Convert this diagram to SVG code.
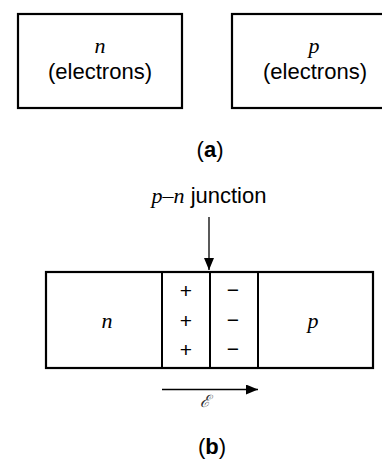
<svg xmlns="http://www.w3.org/2000/svg" width="382" height="460" viewBox="0 0 382 460">
<style>
.box{fill:none;stroke:#000;stroke-width:2.2}
.div{fill:none;stroke:#000;stroke-width:2}
.t{font-family:"Liberation Sans",Arial,sans-serif;font-size:22px;text-anchor:middle;fill:#000}
.m{font-family:"Liberation Serif","Times New Roman",serif;font-style:italic;font-size:22px;text-anchor:middle;fill:#000}
.s{font-family:"Liberation Sans",Arial,sans-serif;font-size:21px;text-anchor:middle;fill:#000}
.con{stroke:#000;stroke-width:1.3;fill:none}
</style>
<defs>
<marker id="ah" markerWidth="12" markerHeight="10" refX="12" refY="5" orient="auto" markerUnits="userSpaceOnUse">
<path d="M0,0 L12,5 L0,10 Z" fill="#000"/>
</marker>
</defs>
<rect width="382" height="460" fill="#fff"/>
<g id="n-block">
<rect class="box" x="18" y="14" width="164" height="94"/>
<text class="m" x="100" y="53">n</text>
<text class="t" x="100" y="79">(electrons)</text>
</g>
<g id="p-block">
<rect class="box" x="232" y="14" width="170" height="94"/>
<text class="m" x="314" y="53">p</text>
<text class="t" x="315" y="79">(electrons)</text>
</g>
<text class="t" x="210" y="157">(<tspan font-weight="bold">a</tspan>)</text>
<g id="junction-label">
<text class="t" x="209" y="203"><tspan font-family="Liberation Serif,serif" font-style="italic">p–n</tspan> junction</text>
</g>
<g id="pn-junction">
<rect class="box" x="46" y="272" width="327" height="96"/>
<line class="div" x1="162" y1="272" x2="162" y2="368"/>
<line class="div" x1="210" y1="272" x2="210" y2="368"/>
<line class="div" x1="258" y1="272" x2="258" y2="368"/>
<text class="m" x="107" y="328">n</text>
<text class="m" x="313" y="328">p</text>
<text class="s" x="186" y="298">+</text>
<text class="s" x="186" y="328">+</text>
<text class="s" x="186" y="357">+</text>
<text class="s" x="233" y="297">−</text>
<text class="s" x="233" y="327">−</text>
<text class="s" x="233" y="356">−</text>
</g>
<g id="connectors">
<line class="con" x1="209" y1="217" x2="209" y2="270" marker-end="url(#ah)"/>
<line class="con" x1="162" y1="389.5" x2="258" y2="389.5" marker-end="url(#ah)"/>
</g>
<text x="205" y="407" font-family="DejaVu Serif,serif" font-style="italic" font-size="17" text-anchor="middle" fill="#333">ℰ</text>
<text class="t" x="212" y="454">(<tspan font-weight="bold">b</tspan>)</text>
</svg>
